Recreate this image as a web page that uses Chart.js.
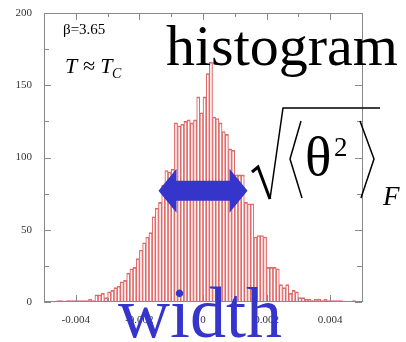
<!DOCTYPE html>
<html>
<head>
<meta charset="utf-8">
<script src="https://cdn.jsdelivr.net/npm/chart.js@4"></script>
<style>
  html, body { margin: 0; padding: 0; background: #fff; }
  #wrap { width: 406px; height: 342px; position: relative; }
</style>
</head>
<body>
<div id="wrap"><canvas id="histChart"></canvas></div>
<script>
// histogram of theta, 100 bins from -0.005 to 0.005
const histMin = -0.005;
const binWidth = 0.0001;
const counts = [
    0, 0, 0, 0, 1, 1, 0, 1, 1, 1,
    1, 1, 1, 1, 2, 1, 5, 5, 6, 3,
    7, 8, 10, 11, 14, 15, 20, 23, 24, 30,
    36, 41, 45, 48, 59, 65, 69, 81, 91, 90,
    92, 124, 122, 123, 125, 126, 124, 126, 142, 131,
    142, 158, 166, 128, 127, 124, 118, 116, 106, 105,
    88, 88, 88, 69, 68, 68, 45, 46, 46, 45,
    24, 24, 24, 23, 12, 10, 12, 6, 8, 7,
    3, 3, 2, 2, 1, 2, 2, 1, 2, 1,
    1, 1, 1, 1, 0, 0, 0, 1, 0, 0
];

const xTickValues = [-0.004, -0.002, 0, 0.002, 0.004];
const xTickLabels = ['-0.004', '-0.002', '0', '0.002', '0.004'];
const xMinorTicks = [-0.003, -0.001, 0.001, 0.003];
const yTickValues = [0, 50, 100, 150, 200];
const yTickLabels = ['0', '50', '100', '150', '200'];
const yMinorTicks = [25, 75, 125, 175];

// width arrow: from -w to +w at height arrowLevel
const arrowHalfWidth = 0.0014;
const arrowLevel = 77;

const serif = "'Liberation Serif', 'DejaVu Serif', serif";
const blue = '#3535cc';

const points = counts.map((c, i) => ({ x: histMin + (i + 0.5) * binWidth, y: c }));

const overlay = {
    id: 'overlay',
    afterDraw(chart) {
        const { ctx, chartArea: a, scales: { x, y } } = chart;
        ctx.save();

        // frame and inward ticks
        ctx.strokeStyle = '#888';
        ctx.lineWidth = 1;
        ctx.strokeRect(a.left + 0.5, a.top + 0.5, a.right - a.left, a.bottom - a.top - 1);
        ctx.beginPath();
        const xTick = (v, len) => {
            const px = Math.round(x.getPixelForValue(v)) + 0.5;
            ctx.moveTo(px, a.bottom); ctx.lineTo(px, a.bottom - len);
            ctx.moveTo(px, a.top); ctx.lineTo(px, a.top + len);
        };
        const yTick = (v, len) => {
            const py = Math.round(y.getPixelForValue(v)) + 0.5;
            ctx.moveTo(a.left, py); ctx.lineTo(a.left + len, py);
            ctx.moveTo(a.right, py); ctx.lineTo(a.right - len, py);
        };
        xTickValues.forEach(v => xTick(v, 7));
        xMinorTicks.forEach(v => xTick(v, 4));
        yTickValues.forEach(v => yTick(v, 7));
        yMinorTicks.forEach(v => yTick(v, 5));
        ctx.stroke();

        // labels inside the plot
        ctx.fillStyle = '#000';
        ctx.textBaseline = 'alphabetic';
        ctx.font = '15px ' + serif;
        ctx.fillText('β=3.65', 63, 34);
        ctx.font = 'italic 22px ' + serif;
        ctx.fillText('T ≈ T', 65, 73);
        ctx.font = 'italic 14px ' + serif;
        ctx.fillText('C', 112, 78);

        ctx.font = '58px ' + serif;
        ctx.fillText('histogram', 166, 65);

        // sqrt(<theta^2>)_F
        ctx.strokeStyle = '#000';
        ctx.lineJoin = 'miter';
        ctx.lineWidth = 3;
        ctx.beginPath();
        ctx.moveTo(252, 172); ctx.lineTo(258, 167); ctx.lineTo(270, 199);
        ctx.stroke();
        ctx.lineWidth = 1.5;
        ctx.beginPath();
        ctx.moveTo(270, 199); ctx.lineTo(283, 108); ctx.lineTo(380, 108);
        ctx.moveTo(301, 121); ctx.lineTo(290, 159); ctx.lineTo(302, 198);
        ctx.moveTo(360, 121); ctx.lineTo(374, 159); ctx.lineTo(361, 198);
        ctx.stroke();
        ctx.font = '55px ' + serif;
        ctx.fillText('θ', 305, 175);
        ctx.font = '27px ' + serif;
        ctx.fillText('2', 334, 156);
        ctx.font = 'italic 27px ' + serif;
        ctx.fillText('F', 383, 205);

        // double arrow marking the width
        const xl = x.getPixelForValue(-arrowHalfWidth);
        const xr = x.getPixelForValue(arrowHalfWidth);
        const yc = y.getPixelForValue(arrowLevel);
        const head = 18, shaft = 10, wing = 22;
        ctx.fillStyle = blue;
        ctx.beginPath();
        ctx.moveTo(xl, yc);
        ctx.lineTo(xl + head, yc - wing);
        ctx.lineTo(xl + head, yc - shaft);
        ctx.lineTo(xr - head, yc - shaft);
        ctx.lineTo(xr - head, yc - wing);
        ctx.lineTo(xr, yc);
        ctx.lineTo(xr - head, yc + wing);
        ctx.lineTo(xr - head, yc + shaft);
        ctx.lineTo(xl + head, yc + shaft);
        ctx.lineTo(xl + head, yc + wing);
        ctx.closePath();
        ctx.fill();

        ctx.font = '72px ' + serif;
        ctx.fillText('width', 118, 337);

        ctx.restore();
    }
};

new Chart(document.getElementById('histChart').getContext('2d'), {
    type: 'bar',
    data: {
        datasets: [{
            data: points,
            backgroundColor: 'rgba(0,0,0,0)',
            borderColor: '#e06a6a',
            // half-width sides so neighbouring bins share a single thin line
            borderWidth: { left: 0.5, right: 0.5, top: 1, bottom: 0 },
            borderSkipped: false,
            barPercentage: 1,
            categoryPercentage: 1
        }]
    },
    options: {
        responsive: true,
        maintainAspectRatio: false,
        animation: false,
        layout: { padding: { top: 13, right: 44, left: 0, bottom: 0 } },
        plugins: { legend: { display: false }, tooltip: { enabled: false } },
        scales: {
            x: {
                type: 'linear',
                min: histMin,
                max: -histMin,
                offset: false,
                grid: { display: false },
                border: { display: false },
                afterBuildTicks: s => { s.ticks = xTickValues.map(v => ({ value: v })); },
                afterFit: s => { s.height = 40; },
                ticks: {
                    padding: 4,
                    maxRotation: 0,
                    autoSkip: false,
                    color: '#333',
                    font: { family: serif, size: 11 },
                    callback: v => xTickLabels[xTickValues.indexOf(v)]
                }
            },
            y: {
                min: 0,
                max: 200,
                grid: { display: false },
                border: { display: false },
                afterBuildTicks: s => { s.ticks = yTickValues.map(v => ({ value: v })); },
                afterFit: s => { s.width = 44; },
                ticks: {
                    padding: 4,
                    color: '#333',
                    font: { family: serif, size: 11 },
                    callback: v => yTickLabels[yTickValues.indexOf(v)]
                }
            }
        }
    },
    plugins: [overlay]
});
</script>
</body>
</html>
